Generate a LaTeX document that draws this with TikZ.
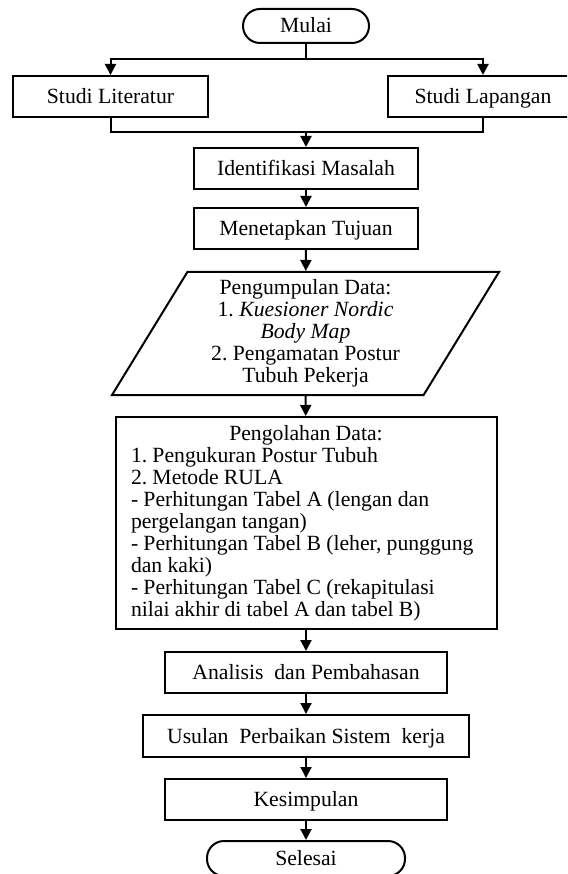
\documentclass[tikz,border=0pt]{standalone}
\usepackage{fontspec}
\setmainfont{Liberation Serif}
\usetikzlibrary{arrows.meta,shapes.geometric}
\frenchspacing
\hyphenpenalty=10000
\newcommand{\rapat}{\spaceskip=.24em plus .1em minus .05em\relax}

\tikzset{
  box/.style={draw, rectangle, minimum height=41pt, inner sep=2pt, align=center},
  oneline/.style={box, text height=17pt, text depth=3pt},
  terminal/.style={draw, rectangle, rounded corners=17pt, minimum height=34pt,
    text height=17pt, text depth=3pt},
  datain/.style={draw, trapezium, trapezium left angle=55, trapezium right angle=125,
    trapezium stretches body, minimum height=123pt, minimum width=387pt,
    inner sep=0pt, align=center},
  arr/.style={-{Triangle[width=11pt,length=11pt]}}
}

\begin{document}
\begin{tikzpicture}[x=1pt, y=-1pt, line width=2pt,
    font=\fontsize{21.7pt}{22pt}\selectfont]
  \useasboundingbox (0,0) rectangle (567,874);
  \clip (0,0) rectangle (567,874);

  \node [terminal, minimum width=126pt] (mulai) at (306,26) {Mulai};
  \node [oneline, minimum width=195pt] (lit) at (110.5,96.5) {Studi Literatur};
  \node [oneline, minimum width=190pt] (lap) at (483,96.5) {Studi Lapangan};
  \coordinate (split) at (306,59);
  \coordinate (join) at (306,132);

  \node [oneline, minimum width=224pt] (ident) at (306,168.5) {Identifikasi Masalah};
  \node [oneline, minimum width=224pt] (tujuan) at (306,228.5) {Menetapkan Tujuan};
  \node [datain] (kumpul) at (305.5,333.5) {Pengumpulan Data:\\
    1. \textit{Kuesioner Nordic}\\ \textit{Body Map}\\
    2. Pengamatan Postur\\ Tubuh Pekerja};
  \node [box, text width=350pt, inner xsep=15.5pt, minimum height=212pt, align=left]
    (olah) at (306,523) {\rapat{\centering Pengolahan Data:\par}
    1. Pengukuran Postur Tubuh\\
    2. Metode RULA\\
    - Perhitungan Tabel A (lengan dan\\
    pergelangan tangan)\\
    \mbox{- Perhitungan Tabel B (leher, punggung}\\
    dan kaki)\\
    - Perhitungan Tabel C (rekapitulasi\\
    nilai akhir di tabel A dan tabel B)};
  \node [oneline, minimum width=282pt] (analisis) at (306,672.5) {Analisis \ dan Pembahasan};
  \node [oneline, minimum width=326pt, minimum height=42pt] (usulan) at (306,736)
    {Usulan \ Perbaikan Sistem \ kerja};
  \node [oneline, minimum width=282pt] (simpul) at (306,799.5) {Kesimpulan};
  \node [terminal, minimum width=198pt, minimum height=35pt] (selesai) at (306,858.5) {Selesai};

  % cabang atas
  \draw (mulai) -- (split);
  \draw [arr] (split) -| (lit);
  \draw [arr] (split) -| (lap);
  \draw (lit) |- (join);
  \draw (lap) |- (join);
  \draw [arr] (join) -- (ident);

  % alur utama
  \draw [arr] (ident) -- (tujuan);
  \draw [arr] (tujuan) -- (kumpul);
  \draw [arr] (kumpul) -- (olah);
  \draw [arr] (olah) -- (analisis);
  \draw [arr] (analisis) -- (usulan);
  \draw [arr] (usulan) -- (simpul);
  \draw [arr] (simpul) -- (selesai);
\end{tikzpicture}
\end{document}
